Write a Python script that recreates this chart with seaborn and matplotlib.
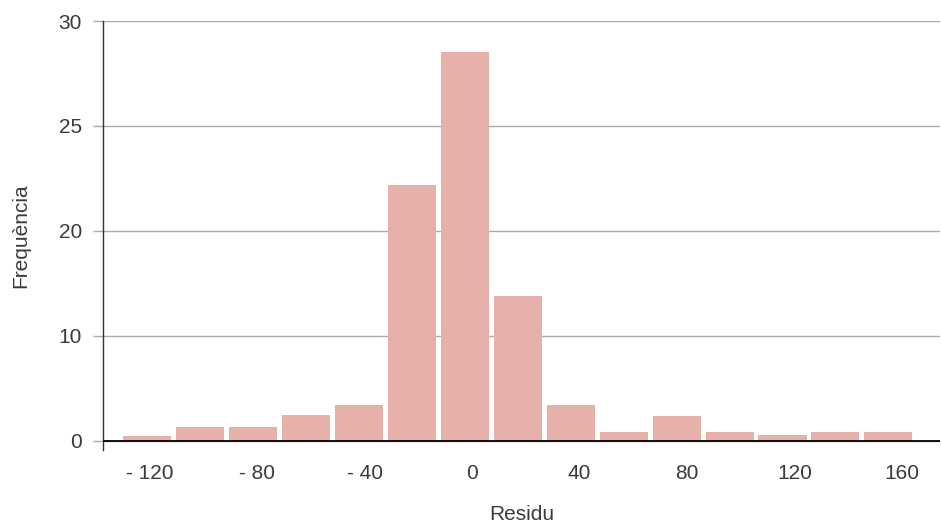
import numpy as np
import pandas as pd
import seaborn as sns
from matplotlib import pyplot as plt

# bin centres (residual) and frequencies
residu = [-120.9, -101.2, -81.5, -61.8, -42.1, -22.4, -2.7, 17.0, 36.7, 56.4, 76.1, 95.8, 115.5, 135.2, 154.9]
freq = [0.48, 1.33, 1.33, 2.48, 3.43, 22.2, 28.5, 13.8, 3.43, 0.86, 2.38, 0.86, 0.57, 0.86, 0.86]

x_ticks = [-120, -80, -40, 0, 40, 80, 120, 160]
x_labels = ['- 120', '- 80', '- 40', '0', '40', '80', '120', '160']
y_ticks = [0, 10, 20, 25, 30]
y_labels = ['0', '10', '20', '25', '30']


# the y axis is stretched above 20 (one grid step = 5 instead of 10)
def fwd(v):
    v = np.asarray(v, dtype=float)
    return np.where(v <= 20, v, 20 + 2 * (v - 20))


def inv(u):
    u = np.asarray(u, dtype=float)
    return np.where(u <= 20, u, 20 + (u - 20) / 2)


def main():
    sns.set_style('white')
    plt.rcParams['font.family'] = ['Liberation Sans', 'DejaVu Sans']
    text_col = '#3a3a3a'
    grid_col = '#aaaaaa'

    df = pd.DataFrame({'residu': residu, 'freq': freq})

    fig = plt.figure(figsize=(9.41, 5.27), dpi=100)
    ax = fig.add_axes([103 / 941, 1 - 450 / 527, 837 / 941, 429 / 527])
    ax.set_yscale('function', functions=(fwd, inv))

    sns.barplot(data=df, x='residu', y='freq', native_scale=True, width=0.907,
                color='#e5b0aa', saturation=1, linewidth=0, errorbar=None, ax=ax, zorder=2)

    ax.set_xlim(-137.3, 174.1)
    ax.set_ylim(-0.86, 30)
    ax.set_xticks(x_ticks)
    ax.set_xticklabels(x_labels)
    ax.set_yticks(y_ticks)
    ax.set_yticklabels(y_labels)
    ax.yaxis.grid(True, color=grid_col, linewidth=1)
    ax.xaxis.grid(False)
    ax.set_axisbelow(True)
    ax.axhline(0, color='black', linewidth=1.3, zorder=3)

    for s in ['top', 'right', 'bottom']:
        ax.spines[s].set_visible(False)
    ax.spines['left'].set_color('#333333')
    ax.spines['left'].set_linewidth(1)

    ax.tick_params(axis='y', length=7.2, width=1, color=grid_col, pad=8,
                   labelsize=15, labelcolor=text_col, left=True)
    ax.tick_params(axis='x', length=0, pad=10, labelsize=15, labelcolor=text_col)

    ax.set_xlabel('Residu', fontsize=15, color=text_col, labelpad=16)
    ax.set_ylabel('Frequència', fontsize=15, color=text_col, labelpad=20)

    plt.savefig('out.png', dpi=100)


if __name__ == '__main__':
    main()
